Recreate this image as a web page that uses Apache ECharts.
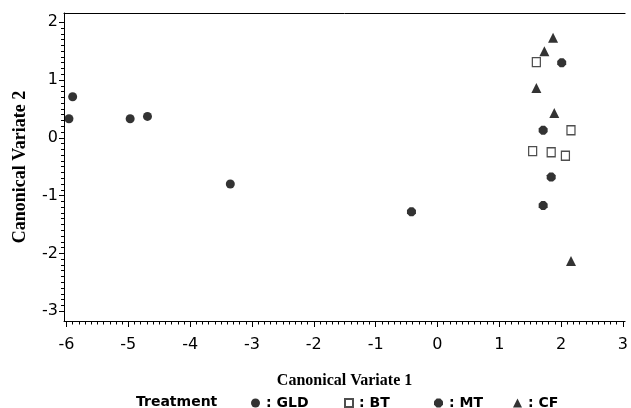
<!DOCTYPE html>
<html>
<head>
<meta charset="utf-8">
<script src="https://cdn.jsdelivr.net/npm/echarts@6/dist/echarts.min.js"></script>
<style>
  html, body { margin: 0; padding: 0; background: #fff; }
  #main { width: 631px; height: 408px; }
</style>
</head>
<body>
<div id="main"></div>
<script>
// canonical variate scores per treatment
var gldX = [-5.96, -5.90, -4.97, -4.69, -3.35];
var gldY = [0.33, 0.71, 0.33, 0.37, -0.80];
var btX = [1.60, 2.16, 1.54, 1.84, 2.07];
var btY = [1.31, 0.13, -0.23, -0.25, -0.31];
var mtX = [-0.42, 2.01, 1.71, 1.84, 1.71];
var mtY = [-1.28, 1.30, 0.13, -0.68, -1.17];
var cfX = [1.87, 1.73, 1.60, 1.89, 2.16];
var cfY = [1.73, 1.50, 0.86, 0.43, -2.13];

var xTicks = [-6, -5, -4, -3, -2, -1, 0, 1, 2, 3];
var yTicks = [-3, -2, -1, 0, 1, 2];

window.onload = function () {
    var myChart = echarts.init(document.getElementById('main'));

    function pairs(xs, ys) {
        return xs.map(function (x, i) { return [x, ys[i]]; });
    }
    // minor ticks every 0.1
    function minors(lo, hi) {
        var out = [];
        for (var i = lo * 10; i <= hi * 10; i++) {
            if (i % 10 !== 0) out.push(i / 10);
        }
        return out;
    }

    var octagon = 'path://M3,0 L7,0 L10,3 L10,7 L7,10 L3,10 L0,7 L0,3 Z';
    var tickFont = { fontFamily: 'DejaVu Sans', fontSize: 16, color: '#000' };
    var lineStyle = { color: '#000', width: 1 };

    option = {
        animation: false,
        title: {
            text: 'Treatment',
            left: 131,
            top: 390,
            textStyle: { fontFamily: 'DejaVu Sans', fontSize: 14, fontWeight: 'bold', color: '#000' }
        },
        legend: [
            { name: 'GLD', left: 246, icon: 'circle', itemW: 9 },
            { name: 'BT', left: 339, icon: 'rect', itemW: 8 },
            { name: 'MT', left: 429, icon: octagon, itemW: 9 },
            { name: 'CF', left: 508, icon: 'triangle', itemW: 9 }
        ].map(function (l) {
            return {
                data: [{ name: l.name, icon: l.icon }],
                left: l.left,
                top: 391,
                itemWidth: l.itemW,
                itemHeight: l.itemW,
                itemGap: 0,
                formatter: function (n) { return ': ' + n; },
                textStyle: { fontFamily: 'DejaVu Sans', fontSize: 14, fontWeight: 'bold', color: '#000', padding: [0, 0, 0, 1] }
            };
        }),
        grid: { left: 64, right: 1, top: 13, bottom: 87 },
        xAxis: [
            {
                type: 'value', min: -6.04, max: 3.035, position: 'bottom',
                name: 'Canonical Variate 1', nameLocation: 'middle', nameGap: 52,
                nameTextStyle: { fontFamily: 'Liberation Serif', fontSize: 16, fontWeight: 'bold', color: '#000' },
                axisLine: { onZero: false, lineStyle: lineStyle },
                axisTick: { inside: false, length: 6, lineStyle: lineStyle, customValues: xTicks },
                axisLabel: Object.assign({ margin: 16, customValues: xTicks }, tickFont),
                splitLine: { show: false }
            },
            {
                type: 'value', min: -6.04, max: 3.035, position: 'bottom',
                axisLine: { show: false, onZero: false },
                axisTick: { length: 3.5, lineStyle: lineStyle, customValues: minors(-6, 3) },
                axisLabel: { show: false },
                splitLine: { show: false }
            },
            {
                type: 'value', min: -6.04, max: 3.035, position: 'top',
                axisLine: { onZero: false, lineStyle: lineStyle },
                axisTick: { show: false },
                axisLabel: { show: false },
                splitLine: { show: false }
            }
        ],
        yAxis: [
            {
                type: 'value', min: -3.17, max: 2.16, position: 'left',
                name: 'Canonical Variate 2', nameLocation: 'middle', nameGap: 35,
                nameTextStyle: { fontFamily: 'Liberation Serif', fontSize: 18, fontWeight: 'bold', color: '#000' },
                axisLine: { show: true, onZero: false, lineStyle: lineStyle },
                axisTick: { show: true, length: 5, lineStyle: lineStyle, customValues: yTicks },
                axisLabel: Object.assign({ margin: 6, customValues: yTicks }, tickFont),
                splitLine: { show: false }
            },
            {
                type: 'value', min: -3.17, max: 2.16, position: 'left',
                axisLine: { show: false, onZero: false },
                axisTick: { show: true, length: 3, lineStyle: lineStyle, customValues: minors(-3, 2) },
                axisLabel: { show: false },
                splitLine: { show: false }
            }
        ],
        series: [
            {
                name: 'GLD', type: 'scatter', symbol: 'circle', symbolSize: 9,
                itemStyle: { color: '#000' },
                data: pairs(gldX, gldY)
            },
            {
                name: 'BT', type: 'scatter', symbol: 'rect', symbolSize: [8, 9],
                itemStyle: { color: '#fff', borderColor: '#222', borderWidth: 1.3 },
                data: pairs(btX, btY)
            },
            {
                name: 'MT', type: 'scatter', symbol: octagon, symbolSize: 9,
                itemStyle: { color: '#000' },
                data: pairs(mtX, mtY)
            },
            {
                name: 'CF', type: 'scatter', symbol: 'triangle', symbolSize: 10,
                itemStyle: { color: '#000' },
                data: pairs(cfX, cfY)
            }
        ]
    };

    myChart.setOption(option);
};
</script>
</body>
</html>
